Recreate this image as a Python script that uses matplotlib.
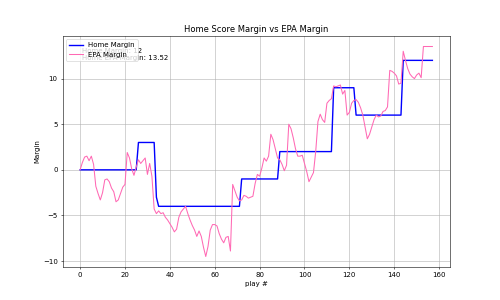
import numpy as np
import matplotlib
matplotlib.use("Agg")
import matplotlib.pyplot as plt

# home score margin after each play
home_margin = [
    0, 0, 0, 0, 0, 0, 0, 0, 0, 0, 0, 0, 0, 0, 0, 0, 0, 0, 0, 0,
    0, 0, 0, 0, 0, 0, 3, 3, 3, 3, 3, 3, 3, 3, -3, -4, -4, -4, -4, -4,
    -4, -4, -4, -4, -4, -4, -4, -4, -4, -4, -4, -4, -4, -4, -4, -4, -4, -4, -4, -4,
    -4, -4, -4, -4, -4, -4, -4, -4, -4, -4, -4, -4, -1, -1, -1, -1, -1, -1, -1, -1,
    -1, -1, -1, -1, -1, -1, -1, -1, -1, 2, 2, 2, 2, 2, 2, 2, 2, 2, 2, 2,
    2, 2, 2, 2, 2, 2, 2, 2, 2, 2, 2, 2, 2, 9, 9, 9, 9, 9, 9, 9,
    9, 9, 9, 6, 6, 6, 6, 6, 6, 6, 6, 6, 6, 6, 6, 6, 6, 6, 6, 6,
    6, 6, 6, 6, 12, 12, 12, 12, 12, 12, 12, 12, 12, 12, 12, 12, 12, 12,
]

# EPA based margin after each play
epa_margin = [
    0.0, 0.8, 1.4, 1.5, 1.0, 1.5, 0.6, -1.8, -2.6, -3.3,
    -2.5, -1.1, -1.0, -1.3, -2.0, -2.4, -3.5, -3.3, -2.6, -1.9,
    -1.6, 1.9, 1.3, 0.1, -0.6, 0.3, 1.1, 0.7, 1.0, 1.3,
    -0.5, 0.7, -0.7, -4.3, -4.8, -4.5, -4.8, -4.7, -5.2, -5.5,
    -5.9, -6.3, -6.8, -6.5, -5.2, -4.6, -4.3, -4.0, -4.8, -5.5,
    -6.1, -6.6, -7.3, -6.7, -7.3, -8.5, -9.5, -8.4, -6.6, -6.0,
    -6.0, -6.15, -7.0, -7.6, -8.0, -7.4, -7.3, -8.9, -1.6, -2.3,
    -3.0, -3.4, -3.3, -2.8, -2.9, -3.1, -3.0, -2.9, -1.5, -0.5,
    -0.7, 0.2, 1.3, 0.95, 1.5, 3.9, 3.3, 2.3, 1.3, 1.1,
    0.6, -0.1, 0.5, 5.0, 4.5, 3.5, 2.3, 1.5, 1.5, 1.6,
    0.7, -0.2, -1.3, -0.8, -0.3, 2.0, 5.3, 6.1, 5.5, 5.2,
    7.3, 7.6, 7.8, 9.2, 9.1, 9.2, 9.3, 8.3, 8.7, 6.0,
    6.3, 7.3, 7.6, 7.7, 7.4, 6.8, 6.0, 4.7, 3.4, 3.9,
    4.7, 5.5, 6.0, 5.8, 5.9, 6.4, 6.5, 6.9, 10.9, 10.8,
    10.6, 10.3, 9.4, 9.5, 13.0, 12.0, 11.1, 10.5, 10.2, 10.0,
    10.4, 10.6, 10.1, 13.52, 13.52, 13.52, 13.52, 13.52,
]

final_margin = home_margin[-1]
final_epa = epa_margin[-1]

plays = np.arange(len(home_margin))

fig, ax = plt.subplots(figsize=(10, 6), dpi=50)
ax.plot(plays, home_margin, color="blue", linewidth=2, label="Home Margin")
ax.plot(plays, epa_margin, color="hotpink", linewidth=1.5, label="EPA Margin")

ax.text(0.05, 0.95, f"Home Margin: {final_margin}\nHome EPA Margin: {final_epa}",
        transform=ax.transAxes, verticalalignment="top")

ax.set_title("Home Score Margin vs EPA Margin")
ax.set_xlabel("play #")
ax.set_ylabel("Margin")
ax.grid(True)
ax.legend(loc="upper left")

fig.savefig("out.png", dpi=50)
